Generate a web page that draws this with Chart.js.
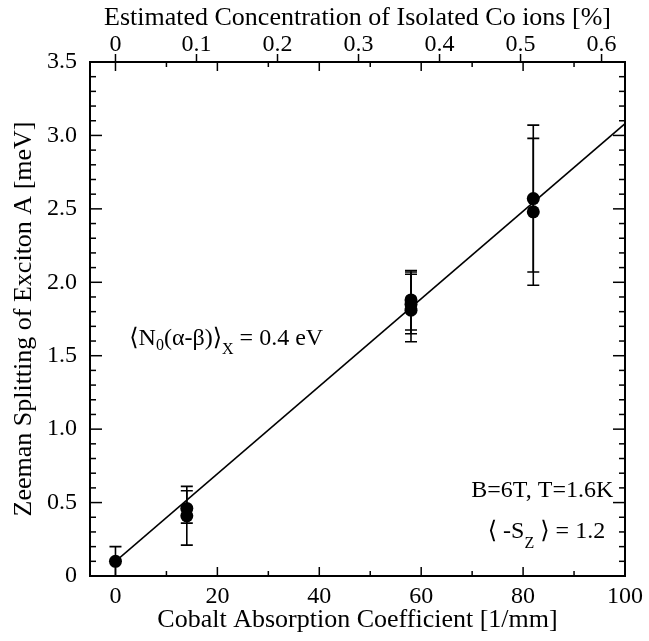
<!DOCTYPE html>
<html><head><meta charset="utf-8">
<script src="https://cdn.jsdelivr.net/npm/chart.js@4/dist/chart.umd.min.js"></script>
<style>html,body{margin:0;padding:0;background:#fff;}#wrap{width:649px;height:641px;}</style>
</head><body><div id="wrap"><canvas id="c" width="649" height="641"></canvas></div>
<script>
// ---- data ----
const absorption = [0, 14, 14, 58, 58, 58, 82, 82];          // Cobalt absorption coefficient [1/mm]
const splitting  = [0.10, 0.46, 0.41, 1.88, 1.85, 1.81, 2.57, 2.48]; // Zeeman splitting [meV]
const errLow     = [0.00, 0.36, 0.21, 1.675, 1.65, 1.595, 2.07, 1.98];
const errHigh    = [0.20, 0.58, 0.61, 2.08, 2.07, 2.055, 3.07, 2.98];
const fitX = [0, 100];
const fitY = [0.10, 3.08];
const xTickValues = [0, 20, 40, 60, 80, 100];
const xTickLabels = ['0', '20', '40', '60', '80', '100'];
const yTickValues = [0, 0.5, 1.0, 1.5, 2.0, 2.5, 3.0, 3.5];
const yTickLabels = ['0', '0.5', '1.0', '1.5', '2.0', '2.5', '3.0', '3.5'];
const concTickValues = [0, 0.1, 0.2, 0.3, 0.4, 0.5, 0.6];
const concTickLabels = ['0', '0.1', '0.2', '0.3', '0.4', '0.5', '0.6'];
const absorptionPerPercent = 159; // 1 % isolated Co ~ 159 /mm
const xMin = -5, xMax = 100, yMin = 0, yMax = 3.5;

const FONT = "'Liberation Serif','Times New Roman','DejaVu Serif',serif";
const FS = 24;
const TS = 26;

function richText(ctx, x, y, segs, align) {
  let w = 0;
  segs.forEach(s => { ctx.font = s.size + 'px ' + FONT; w += ctx.measureText(s.t).width; });
  let cx = align === 'right' ? x - w : x;
  ctx.textAlign = 'left'; ctx.textBaseline = 'alphabetic';
  segs.forEach(s => {
    ctx.font = s.size + 'px ' + FONT;
    ctx.fillText(s.t, cx, y + (s.dy || 0));
    cx += ctx.measureText(s.t).width;
  });
}

const decor = {
  id: 'decor',
  beforeDatasetsDraw(chart) {
    const {ctx, scales: {x, y}} = chart;
    ctx.save();
    ctx.strokeStyle = '#000'; ctx.lineWidth = 1.6;
    absorption.forEach((a, i) => {
      const px = x.getPixelForValue(a);
      const lo = y.getPixelForValue(errLow[i]);
      const hi = y.getPixelForValue(errHigh[i]);
      ctx.beginPath();
      ctx.moveTo(px, lo); ctx.lineTo(px, hi);
      ctx.moveTo(px - 6, lo); ctx.lineTo(px + 6, lo);
      ctx.moveTo(px - 6, hi); ctx.lineTo(px + 6, hi);
      ctx.stroke();
    });
    ctx.restore();
  },
  afterDraw(chart) {
    const {ctx, chartArea: a, scales: {x, x2, y}} = chart;
    ctx.save();
    ctx.strokeStyle = '#000'; ctx.fillStyle = '#000'; ctx.lineWidth = 1.5;
    const seg = (x1, y1, x2_, y2) => { ctx.beginPath(); ctx.moveTo(x1, y1); ctx.lineTo(x2_, y2); ctx.stroke(); };
    for (let v = 0; v <= 100; v += 10) {
      const px = x.getPixelForValue(v);
      const L = v % 20 === 0 ? 9 : 5;
      seg(px, a.bottom, px, a.bottom - L);
      seg(px, a.top, px, a.top + L);
    }
    for (let i = 0; i <= 35; i++) {
      const py = y.getPixelForValue(i / 10);
      const L = i % 5 === 0 ? 12 : 6;
      seg(a.left, py, a.left + L, py);
      seg(a.right, py, a.right - L, py);
    }
    concTickValues.forEach(v => { const px = x2.getPixelForValue(v); seg(px, a.top, px, a.top - 8); });
    ctx.lineWidth = 2;
    ctx.strokeRect(a.left, a.top, a.right - a.left, a.bottom - a.top);

    // annotations
    const big = FS, small = 16;
    richText(ctx, x.getPixelForValue(2.7), y.getPixelForValue(1.573), [
      {t: '\u27E8N', size: big}, {t: '0', size: small, dy: 5}, {t: '(\u03B1-\u03B2)', size: big},
      {t: '\u27E9', size: big}, {t: 'X', size: small, dy: 9}, {t: ' = 0.4 eV', size: big}
    ], 'left');
    richText(ctx, x.getPixelForValue(97.7), y.getPixelForValue(0.538), [
      {t: 'B=6T, T=1.6K', size: big}
    ], 'right');
    richText(ctx, x.getPixelForValue(96.1), y.getPixelForValue(0.259), [
      {t: '\u27E8 -S', size: big}, {t: 'Z', size: small, dy: 10}, {t: ' \u27E9 = 1.2', size: big}
    ], 'right');
    ctx.restore();
  }
};

const tickFont = {family: FONT, size: FS};
const titleFont = {family: FONT, size: TS};
new Chart(document.getElementById('c'), {
  type: 'scatter',
  data: {
    datasets: [
      {type: 'line', data: fitX.map((v, i) => ({x: v, y: fitY[i]})), borderColor: '#000', borderWidth: 1.5,
       pointRadius: 0, fill: false, xAxisID: 'x', yAxisID: 'y'},
      {data: absorption.map((v, i) => ({x: v, y: splitting[i]})), pointRadius: 6.5, pointHoverRadius: 6.5,
       backgroundColor: '#000', borderColor: '#000', borderWidth: 0, xAxisID: 'x', yAxisID: 'y'}
    ]
  },
  options: {
    responsive: false, animation: false, devicePixelRatio: 1,
    layout: {padding: {left: 0, right: 22, top: 0, bottom: 0}},
    plugins: {legend: {display: false}, tooltip: {enabled: false}},
    scales: {
      x: {type: 'linear', position: 'bottom', min: xMin, max: xMax,
          afterBuildTicks: s => { s.ticks = xTickValues.map(v => ({value: v})); },
          ticks: {callback: (v, i) => xTickLabels[i], font: tickFont, color: '#000', padding: 6, maxRotation: 0, autoSkip: false},
          grid: {display: false, drawTicks: false}, border: {display: false},
          title: {display: true, text: 'Cobalt Absorption Coefficient [1/mm]', font: titleFont, color: '#000', padding: {top: 0, bottom: 5}},
          afterFit: s => { s.height = 65; }},
      x2: {type: 'linear', position: 'top', axis: 'x', min: xMin / absorptionPerPercent, max: xMax / absorptionPerPercent,
          afterBuildTicks: s => { s.ticks = concTickValues.map(v => ({value: v})); },
          ticks: {callback: (v, i) => concTickLabels[i], font: tickFont, color: '#000', padding: 3, maxRotation: 0, autoSkip: false},
          grid: {display: false, drawTicks: false}, border: {display: false},
          title: {display: true, text: 'Estimated Concentration of Isolated Co ions [%]', font: titleFont, color: '#000', padding: {top: 3, bottom: 0}},
          afterFit: s => { s.height = 62; }},
      y: {type: 'linear', position: 'left', min: yMin, max: yMax,
          afterBuildTicks: s => { s.ticks = yTickValues.map(v => ({value: v})); },
          ticks: {callback: (v, i) => yTickLabels[i], font: tickFont, color: '#000', padding: 13, autoSkip: false},
          grid: {display: false, drawTicks: false}, border: {display: false},
          title: {display: true, text: 'Zeeman Splitting of Exciton A [meV]', font: titleFont, color: '#000', padding: {top: 9, bottom: 0}},
          afterFit: s => { s.width = 90; }}
    }
  },
  plugins: [decor]
});
</script></body></html>
